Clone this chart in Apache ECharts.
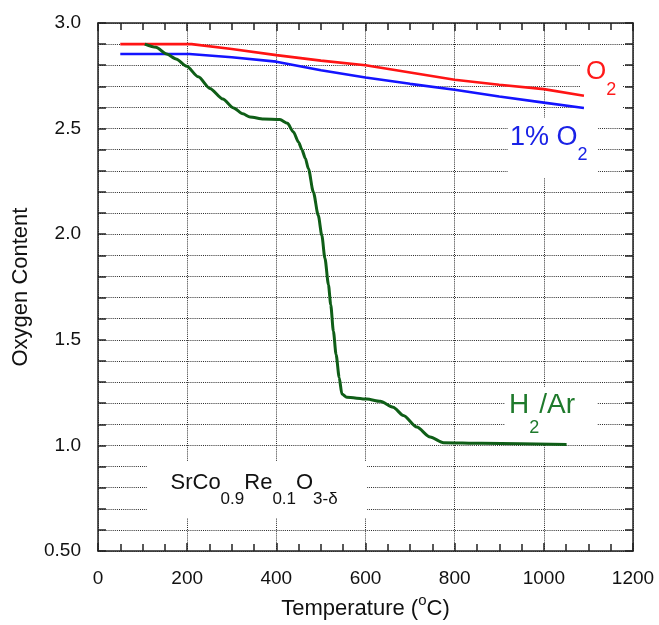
<!DOCTYPE html>
<html>
<head>
<meta charset="utf-8">
<script src="https://cdn.jsdelivr.net/npm/echarts@6/dist/echarts.min.js"></script>
<style>
  html, body { margin: 0; padding: 0; background: #fff; }
  #chart { width: 659px; height: 625px; }
</style>
</head>
<body>
<div id="chart"></div>
<script>
// Oxygen content of SrCo0.9Re0.1O3-δ versus temperature in three atmospheres

// Pure O2
const o2Temp    = [50, 210, 300, 400, 500, 600, 700, 800, 900, 1000, 1090];
const o2Content = [2.900, 2.900, 2.877, 2.848, 2.822, 2.800, 2.766, 2.731, 2.708, 2.687, 2.656];

// 1% O2
const lowO2Temp    = [50, 205, 300, 400, 500, 600, 700, 800, 900, 1000, 1090];
const lowO2Content = [2.853, 2.853, 2.838, 2.817, 2.776, 2.742, 2.712, 2.684, 2.652, 2.623, 2.598];

// H2/Ar reduction
const h2Temp = [105, 130, 154, 175, 199, 225, 251, 280, 304, 325, 341, 371, 408, 425, 438, 450,
                457, 465, 472, 483, 494, 502, 509, 517, 522, 528, 534, 541, 547, 558, 603, 633,
                662, 685, 715, 745, 775, 860, 1051];
const h2Content = [2.900, 2.885, 2.853, 2.830, 2.795, 2.745, 2.690, 2.640, 2.598, 2.570, 2.555, 2.545,
                   2.543, 2.525, 2.485, 2.435, 2.402, 2.360, 2.310, 2.200, 2.090, 1.995, 1.886, 1.760,
                   1.666, 1.541, 1.431, 1.322, 1.244, 1.228, 1.220, 1.209, 1.181, 1.142, 1.087, 1.040,
                   1.013, 1.010, 1.005];

// Axis ranges and steps
const tempMin = 0, tempMax = 1200, tempStep = 200;
const contentMin = 0.5, contentMax = 3.0, contentStep = 0.1;

const FONT = '"Liberation Sans", Arial, Helvetica, sans-serif';
const AXIS_COLOR = '#222';

function pairs(xs, ys) {
  return xs.map((x, i) => [x, ys[i]]);
}

function contentLabel(v) {
  const k = Math.round(v * 10);
  if (k % 5 !== 0) return '';
  return k === 5 ? '0.50' : (k / 10).toFixed(1);
}

function tempLabel(v) {
  return String(Math.round(v));
}

const axisLineStyle = { color: AXIS_COLOR, width: 1.5 };
const gridLineStyle = { color: '#2a2a2a', width: 1, type: [1, 1.1] };

const chart = echarts.init(document.getElementById('chart'), null, { renderer: 'canvas' });

// Text block with subscripts: main glyphs top-aligned, subscripts pushed down
function subText(parts, color, mainSize, mainLH, subSize, subLH) {
  return {
    text: parts.map(p => (p.sub ? '{s|' : '{m|') + p.t + '}').join(''),
    align: 'left',
    verticalAlign: 'top',
    fill: color,
    fontFamily: FONT,
    rich: {
      m: { fontSize: mainSize, lineHeight: mainLH, verticalAlign: 'top', fill: color, fontFamily: FONT },
      s: { fontSize: subSize, lineHeight: subLH, verticalAlign: 'bottom', fill: color, fontFamily: FONT }
    }
  };
}

const option = {
  animation: false,
  backgroundColor: '#fff',
  grid: { left: 98, right: 26, top: 23, bottom: 70, containLabel: false },
  xAxis: [
    {
      type: 'value', position: 'bottom',
      min: tempMin, max: tempMax, interval: tempStep,
      axisLine: { show: true, onZero: false, lineStyle: axisLineStyle },
      axisTick: { show: true, inside: true, length: 8, lineStyle: axisLineStyle },
      minorTick: { show: true, splitNumber: 4, length: 7, lineStyle: axisLineStyle },
      axisLabel: { fontSize: 19, color: '#111', margin: 18, fontFamily: FONT, formatter: tempLabel },
      splitLine: { show: true, lineStyle: gridLineStyle },
      name: '{m|Temperature (}{sup|o}{m|C)}',
      nameLocation: 'middle',
      nameGap: 25,
      nameTextStyle: {
        color: '#111', fontFamily: FONT,
        rich: {
          m: { fontSize: 22, lineHeight: 27, verticalAlign: 'bottom', color: '#111', fontFamily: FONT },
          sup: { fontSize: 15, lineHeight: 15, verticalAlign: 'top', color: '#111', fontFamily: FONT }
        }
      }
    },
    {
      type: 'value', position: 'top',
      min: tempMin, max: tempMax, interval: tempStep,
      axisLine: { show: true, onZero: false, lineStyle: axisLineStyle },
      axisTick: { show: true, inside: true, length: 8, lineStyle: axisLineStyle },
      minorTick: { show: true, splitNumber: 4, length: 7, lineStyle: axisLineStyle },
      axisLabel: { show: false },
      splitLine: { show: false }
    }
  ],
  yAxis: [
    {
      type: 'value', position: 'left',
      min: contentMin, max: contentMax, interval: contentStep,
      axisLine: { show: true, onZero: false, lineStyle: axisLineStyle },
      axisTick: { show: true, inside: true, length: 8, lineStyle: axisLineStyle },
      axisLabel: { fontSize: 19, color: '#111', margin: 17, fontFamily: FONT, formatter: contentLabel },
      splitLine: { show: true, lineStyle: gridLineStyle },
      name: 'Oxygen Content',
      nameLocation: 'middle',
      nameRotate: 90,
      nameGap: 66,
      nameTextStyle: { fontSize: 22, color: '#111', fontFamily: FONT }
    },
    {
      type: 'value', position: 'right',
      min: contentMin, max: contentMax, interval: contentStep,
      axisLine: { show: true, onZero: false, lineStyle: axisLineStyle },
      axisTick: { show: true, inside: true, length: 8, lineStyle: axisLineStyle },
      axisLabel: { show: false },
      splitLine: { show: false }
    }
  ],
  series: [
    {
      name: 'O2', type: 'line', xAxisIndex: 0, yAxisIndex: 0,
      data: pairs(o2Temp, o2Content),
      symbol: 'none', silent: true, z: 3,
      lineStyle: { color: '#ff1414', width: 2.6 }, itemStyle: { color: '#ff1414' }
    },
    {
      name: '1% O2', type: 'line', xAxisIndex: 0, yAxisIndex: 0,
      data: pairs(lowO2Temp, lowO2Content),
      symbol: 'none', silent: true, z: 3,
      lineStyle: { color: '#1414ff', width: 2.6 }, itemStyle: { color: '#1414ff' }
    },
    {
      name: 'H2/Ar', type: 'line', xAxisIndex: 0, yAxisIndex: 0,
      data: pairs(h2Temp, h2Content),
      symbol: 'none', silent: true, z: 3,
      smooth: 0.25, smoothMonotone: 'x',
      lineStyle: { color: '#0f5e17', width: 3 }, itemStyle: { color: '#0f5e17' }
    }
  ],
  graphic: [
    // white panels behind the annotations hide the grid
    { type: 'rect', z: 1, silent: true, shape: { x: 581, y: 54, width: 42, height: 62 }, style: { fill: '#fff' } },
    { type: 'rect', z: 1, silent: true, shape: { x: 508, y: 118, width: 90, height: 60 }, style: { fill: '#fff' } },
    { type: 'rect', z: 1, silent: true, shape: { x: 505, y: 387, width: 92, height: 57 }, style: { fill: '#fff' } },
    { type: 'rect', z: 1, silent: true, shape: { x: 147, y: 461, width: 220, height: 57 }, style: { fill: '#fff' } },

    { type: 'text', z: 5, silent: true, x: 586, y: 59.3,
      style: subText([{ t: 'O' }, { t: '2', sub: true }], '#ff1a1a', 26, 26, 18, 40.2) },
    { type: 'text', z: 5, silent: true, x: 510, y: 123.7,
      style: subText([{ t: '1% O' }, { t: '2', sub: true }], '#1a22e6', 27, 27, 18, 40) },
    { type: 'text', z: 5, silent: true, x: 509, y: 391.2,
      style: subText([{ t: 'H' }, { t: '2', sub: true }, { t: '/Ar' }], '#1f7a2c', 28, 28, 18, 45.5) },
    { type: 'text', z: 5, silent: true, x: 170.5, y: 472.3,
      style: subText([{ t: 'SrCo' }, { t: '0.9', sub: true }, { t: 'Re' }, { t: '0.1', sub: true },
                      { t: 'O' }, { t: '3-δ', sub: true }], '#111', 22, 22, 17, 35.3) }
  ]
};

chart.setOption(option);
</script>
</body>
</html>
